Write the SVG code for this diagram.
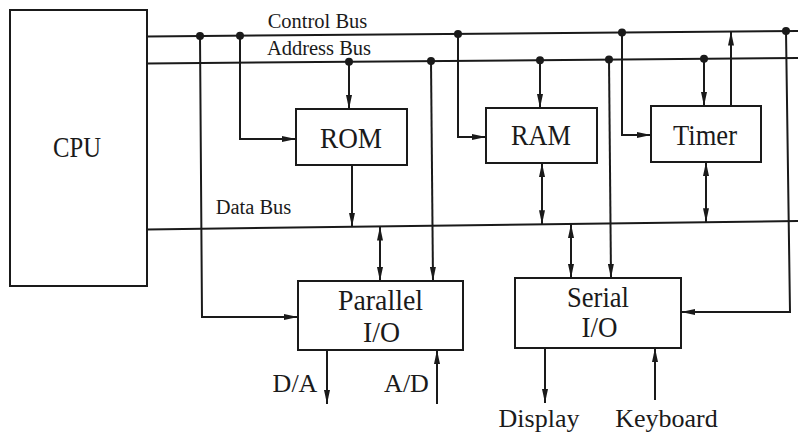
<svg xmlns="http://www.w3.org/2000/svg" width="798" height="436" viewBox="0 0 798 436">
<style>
.box{fill:none;stroke:#1a1a1a;stroke-width:2}
.ln{fill:none;stroke:#1a1a1a;stroke-width:2}
.ar{marker-end:url(#arr)}
.bi{marker-start:url(#arr);marker-end:url(#arr)}
.dot{fill:#1a1a1a}
text{font-family:'Liberation Serif','DejaVu Serif',serif;fill:#1a1a1a;text-anchor:middle}
.big{font-size:29px}
.bus{font-size:20.5px}
.ext{font-size:26px}
</style>
<defs>
<marker id="arr" viewBox="0 0 14 6" refX="14" refY="3" markerWidth="14" markerHeight="6" markerUnits="userSpaceOnUse" orient="auto-start-reverse">
<path d="M0,0 L14,3 L0,6 z" fill="#1a1a1a"/>
</marker>
</defs>
<rect width="798" height="436" fill="#fff"/>

<g id="connectors">
<path class="ln" d="M147,36.5 L798,31"/>
<path class="ln" d="M147,63.5 L798,58"/>
<path class="ln" d="M147,229.5 L798,221"/>
<path class="ln ar" d="M200,36 L202,317 L298,317"/>
<path class="ln ar" d="M240,35.7 L240,139 L296,139"/>
<path class="ln ar" d="M349,61.8 L349,109"/>
<path class="ln ar" d="M431,61.1 L433,281"/>
<path class="ln ar" d="M352,165 L352,226.8"/>
<path class="ln bi" d="M380,226.5 L380,281"/>
<path class="ln ar" d="M458,33.9 L458,137 L486,137"/>
<path class="ln ar" d="M540,60.2 L540,108"/>
<path class="ln bi" d="M542,163 L542,224.3"/>
<path class="ln ar" d="M609,59.6 L611,278"/>
<path class="ln bi" d="M571,224 L571,278"/>
<path class="ln ar" d="M622,32.5 L622,135 L651,135"/>
<path class="ln ar" d="M704,58.8 L704,106"/>
<path class="ln ar" d="M731,106 L731,31.6"/>
<path class="ln bi" d="M706,162 L706,222.2"/>
<path class="ln ar" d="M786,31.1 L790,312 L681,312"/>
<path class="ln ar" d="M327,350 L327,404"/>
<path class="ln ar" d="M437,404 L437,350"/>
<path class="ln ar" d="M545,348 L545,403"/>
<path class="ln ar" d="M655,400 L655,348"/>
<circle class="dot" cx="200" cy="36" r="4"/>
<circle class="dot" cx="240" cy="35.7" r="4"/>
<circle class="dot" cx="458" cy="33.9" r="4"/>
<circle class="dot" cx="622" cy="32.5" r="4"/>
<circle class="dot" cx="786" cy="31.1" r="4"/>
<circle class="dot" cx="349" cy="61.8" r="4"/>
<circle class="dot" cx="431" cy="61.1" r="4"/>
<circle class="dot" cx="540" cy="60.2" r="4"/>
<circle class="dot" cx="609" cy="59.6" r="4"/>
<circle class="dot" cx="704" cy="58.8" r="4"/>
</g>

<g id="bus-labels">
<text class="bus" x="317.5" y="28">Control Bus</text>
<text class="bus" x="319" y="55">Address Bus</text>
<text class="bus" x="253.5" y="214">Data Bus</text>
</g>

<g id="cpu">
<rect class="box" x="10" y="10" width="137" height="276"/>
<text class="big" x="77" y="157" textLength="48" lengthAdjust="spacingAndGlyphs">CPU</text>
</g>
<g id="rom">
<rect class="box" x="296" y="109" width="111" height="56"/>
<text class="big" x="351" y="148" textLength="62" lengthAdjust="spacingAndGlyphs">ROM</text>
</g>
<g id="ram">
<rect class="box" x="486" y="108" width="111" height="55"/>
<text class="big" x="541" y="145" textLength="60" lengthAdjust="spacingAndGlyphs">RAM</text>
</g>
<g id="timer">
<rect class="box" x="651" y="106" width="110" height="56"/>
<text class="big" x="705" y="145" textLength="64" lengthAdjust="spacingAndGlyphs">Timer</text>
</g>
<g id="parallel-io">
<rect class="box" x="298" y="281" width="165" height="69"/>
<text class="big" x="380.5" y="310" textLength="85" lengthAdjust="spacingAndGlyphs">Parallel</text>
<text class="big" x="381.5" y="342" textLength="37" lengthAdjust="spacingAndGlyphs">I/O</text>
</g>
<g id="serial-io">
<rect class="box" x="515" y="278" width="166" height="70"/>
<text class="big" x="598" y="307" textLength="62" lengthAdjust="spacingAndGlyphs">Serial</text>
<text class="big" x="599.5" y="337" textLength="36" lengthAdjust="spacingAndGlyphs">I/O</text>
</g>
<g id="io-labels">
<text class="ext" x="295" y="392">D/A</text>
<text class="ext" x="406.5" y="392">A/D</text>
<text class="ext" x="539" y="427">Display</text>
<text class="ext" x="666.5" y="427">Keyboard</text>
</g>
</svg>
